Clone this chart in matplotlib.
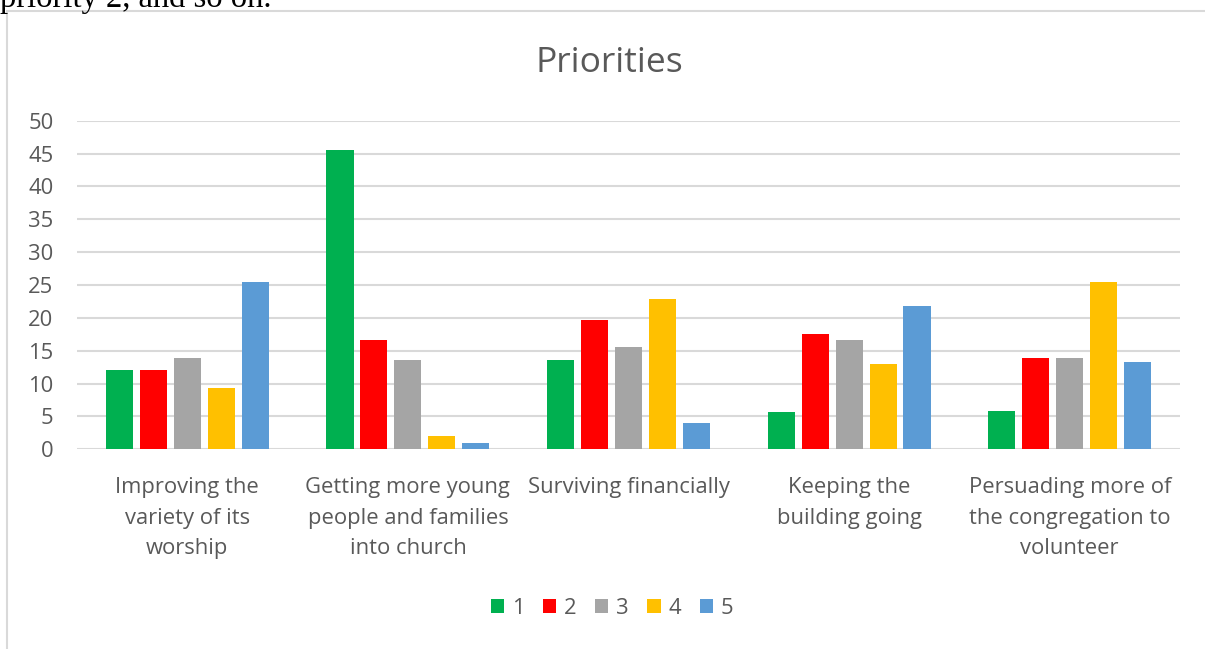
import matplotlib
matplotlib.use("Agg")
import matplotlib.pyplot as plt
from matplotlib.patches import Patch, Rectangle
import numpy as np

categories = [
    "Improving the\nvariety of its\nworship",
    "Getting more young\npeople and families\ninto church",
    "Surviving financially",
    "Keeping the\nbuilding going",
    "Persuading more of\nthe congregation to\nvolunteer",
]
series_names = ["1", "2", "3", "4", "5"]
priority_1 = [12.0, 45.5, 13.6, 5.7, 5.9]
priority_2 = [12.0, 16.7, 19.6, 17.5, 13.9]
priority_3 = [13.9, 13.6, 15.6, 16.7, 13.9]
priority_4 = [9.4, 2.0, 22.9, 13.0, 25.5]
priority_5 = [25.5, 0.9, 4.0, 21.8, 13.3]
series_values = [priority_1, priority_2, priority_3, priority_4, priority_5]
series_colors = ["#00b050", "#ff0000", "#a5a5a5", "#ffc000", "#5b9bd5"]
y_ticks = [0, 5, 10, 15, 20, 25, 30, 35, 40, 45, 50]

W, H = 1205, 649
text_color = "#595959"
grid_color = "#d9d9d9"
font = "Open Sans"
label_size = 15.8

fig = plt.figure(figsize=(W / 100, H / 100), dpi=100)
fig.patch.set_facecolor("white")

# Tail of the document sentence above the chart
fig.text(0.0, 1 - 7 / H, "priority 2, and so on.", family="Liberation Serif",
         fontsize=23.5, color="black", ha="left", va="baseline")

# Chart frame
fig.patches.append(Rectangle((7.5 / W, -0.05), 1.2, 1 - 11 / H + 0.05,
                             transform=fig.transFigure, fill=False,
                             edgecolor="#d9d9d9", linewidth=1.5))

ax = fig.add_axes([77 / W, (H - 449.3) / H, (1180 - 77) / W, 328.6 / H])
x = np.arange(len(categories))
step = 0.154
width = 0.123
for i, (vals, col, name) in enumerate(zip(series_values, series_colors, series_names)):
    ax.bar(x + (i - 2) * step, vals, width=width, color=col, label=name, zorder=3)

ax.set_xlim(-0.5, len(categories) - 0.5)
ax.set_ylim(0, 50)
ax.set_yticks(y_ticks)
ax.set_yticklabels([str(t) for t in y_ticks], family=font, fontsize=label_size,
                   color=text_color)
ax.set_xticks(x)
ax.set_xticklabels(categories, family=font, fontsize=label_size, color=text_color,
                   linespacing=1.6, va="top")
ax.tick_params(axis="y", length=0, pad=17)
ax.tick_params(axis="x", length=0, pad=20)
ax.grid(axis="y", color=grid_color, linewidth=1.5, zorder=0)
for s in ax.spines.values():
    s.set_visible(False)
ax.set_facecolor("none")

fig.text(609 / W, 1 - 63 / H, "Priorities", family=font, fontsize=25.5,
         color=text_color, ha="center", va="center")

handles = [Patch(facecolor=c, edgecolor="none") for c in series_colors]
leg = fig.legend(handles, series_names, loc="center", bbox_to_anchor=(612 / W, 1 - 608 / H),
                 ncol=5, frameon=False, prop={"family": font, "size": label_size},
                 handlelength=0.6, handleheight=0.6, handletextpad=0.35,
                 columnspacing=0.85, borderaxespad=0)
for t in leg.get_texts():
    t.set_color(text_color)

fig.savefig("out.png", dpi=100)
